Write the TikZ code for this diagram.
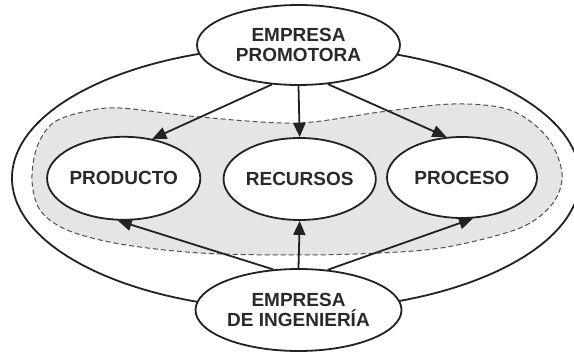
\documentclass[tikz,border=0pt]{standalone}
\usepackage{fontspec}
\setmainfont{Liberation Sans}
\usetikzlibrary{shapes.geometric,arrows.meta}
\definecolor{ink}{HTML}{222222}
\definecolor{txt}{HTML}{2A2A2A}
\definecolor{blobfill}{HTML}{E5E5E5}
\definecolor{dashc}{HTML}{505050}
\tikzset{
  bubble/.style={ellipse, draw=ink, line width=1.8pt, fill=white, inner sep=0pt,
    text=txt, align=center, font=\bfseries\fontsize{19}{20.5}\selectfont},
  link/.style={draw=ink, line width=1.8pt, -{Triangle[length=14pt,width=12pt]}},
  ring/.style={draw=ink, line width=1.8pt},
  blob/.style={draw=dashc, line width=1pt, dash pattern=on 5pt off 3pt, fill=blobfill}
}
\begin{document}
\begin{tikzpicture}[x=1pt,y=-1pt]
\useasboundingbox (0,0) rectangle (574,352);
\begin{scope}
\clip (0,0) rectangle (574,352);
\fill[white] (0,0) rectangle (574,352);
\draw[ring] (296,178) ellipse [x radius=284, y radius=132];
\path[blob] plot[smooth cycle, tension=0.55] coordinates {
  (32,180) (37,147) (53,123) (83,112) (120,108) (200,117) (297,123)
  (380,112) (453,104) (510,110) (547,137) (562,173) (553,203) (520,228)
  (447,247) (380,253) (297,255) (200,253) (120,244) (67,230) (40,210)};
\node[bubble, minimum width=203pt, minimum height=80pt] (top) at (298.5,45) {EMPRESA\\PROMOTORA};
\node[bubble, minimum width=206pt, minimum height=82pt] (bot) at (298.5,310) {EMPRESA\\DE INGENIERÍA};
\node[bubble, minimum width=150pt, minimum height=83pt] (prod) at (123.7,178.3) {PRODUCTO};
\node[bubble, minimum width=149pt, minimum height=82pt] (rec) at (299.7,179) {RECURSOS};
\node[bubble, minimum width=150pt, minimum height=81pt] (proc) at (462,177.5) {PROCESO};
\draw[link] (top.236.6) -- (prod.54);
\draw[link] (top.south) -- (rec.north);
\draw[link] (top.307.6) -- (proc.111);
\draw[link] (bot.122.7) -- (prod.262.6);
\draw[link] (bot.north) -- (rec.south);
\draw[link] (bot.54.1) -- (proc.285.8);
\end{scope}
\end{tikzpicture}
\end{document}
